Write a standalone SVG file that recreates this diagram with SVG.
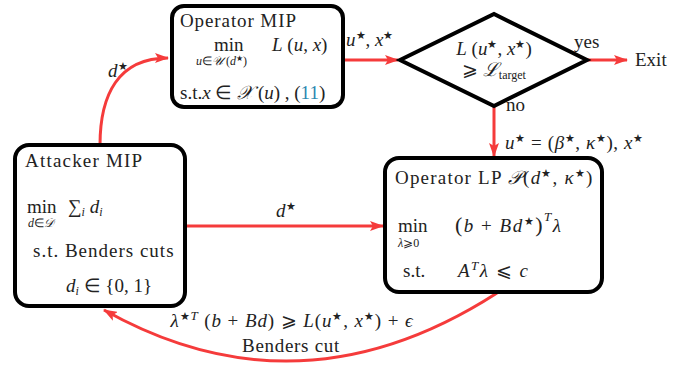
<svg xmlns="http://www.w3.org/2000/svg" width="697" height="367" viewBox="0 0 697 367">
<defs>
<marker id="ah" viewBox="0 0 14 10" refX="13" refY="5" markerWidth="14" markerHeight="10" markerUnits="userSpaceOnUse" orient="auto">
<path d="M0,0 L14,5 L0,10 L3,5 Z" fill="#f53b3b"/>
</marker>
</defs>
<style>
.box{fill:#fff;stroke:#000;stroke-width:4}
.c{fill:none;stroke:#f53b3b;stroke-width:3;marker-end:url(#ah)}
</style>
<rect width="697" height="367" fill="#fff"/>
<g id="connectors">
<path class="c" d="M100,145 C100,95 118,58 168,58"/>
<path class="c" d="M343,60 L398,60"/>
<path class="c" d="M587,60 L627,60"/>
<path class="c" d="M494,106 L494,156"/>
<path class="c" d="M185,226 L383,226"/>
<path class="c" d="M497,293 Q300,420 104,310"/>
</g>
<g id="labels" font-family="Liberation Serif" font-size="19" fill="#222">
<text x="108" y="77" font-style="italic">d<tspan dy="-7" font-size="11" font-style="normal">★</tspan></text>
<text x="346" y="46" font-style="italic">u<tspan dy="-7" font-size="11" font-style="normal">★</tspan><tspan dy="7" font-style="normal">, </tspan>x<tspan dy="-7" font-size="11" font-style="normal">★</tspan></text>
<text x="574" y="48">yes</text>
<text x="635" y="66">Exit</text>
<text x="506" y="111">no</text>
<text x="505" y="149" font-style="italic" letter-spacing="0.6">u<tspan dy="-7" font-size="11" font-style="normal">★</tspan><tspan dy="7" font-style="normal"> = (</tspan>β<tspan dy="-7" font-size="11" font-style="normal">★</tspan><tspan dy="7" font-style="normal">, </tspan>κ<tspan dy="-7" font-size="11" font-style="normal">★</tspan><tspan dy="7" font-style="normal">), </tspan>x<tspan dy="-7" font-size="11" font-style="normal">★</tspan></text>
<text x="276" y="217" font-style="italic">d<tspan dy="-7" font-size="11" font-style="normal">★</tspan></text>
<text x="292" y="327" text-anchor="middle" letter-spacing="0.9"><tspan font-style="italic">λ</tspan><tspan dy="-7" font-size="11">★</tspan><tspan font-style="italic" font-size="13">T</tspan><tspan dy="7"> (</tspan><tspan font-style="italic">b</tspan> + <tspan font-style="italic">Bd</tspan>) ⩾ <tspan font-style="italic">L</tspan>(<tspan font-style="italic">u</tspan><tspan dy="-7" font-size="11">★</tspan><tspan dy="7">, </tspan><tspan font-style="italic">x</tspan><tspan dy="-7" font-size="11">★</tspan><tspan dy="7">) + </tspan><tspan font-style="italic">ϵ</tspan></text>
<text x="291" y="352" text-anchor="middle" letter-spacing="0.7">Benders cut</text>
</g>
<g id="operator-mip" font-family="Liberation Serif" font-size="19" fill="#222">
<rect class="box" x="172" y="6" width="171" height="101" rx="12"/>
<text x="180" y="27" letter-spacing="0.9">Operator MIP</text>
<text x="214" y="51">min</text>
<text x="196" y="65" font-size="12"><tspan font-style="italic">u</tspan>∈<tspan font-style="italic">𝒰</tspan> (<tspan font-style="italic">d</tspan><tspan dy="-4" font-size="8">★</tspan><tspan dy="4">)</tspan></text>
<text x="272" y="51"><tspan font-style="italic">L</tspan> (<tspan font-style="italic">u</tspan>, <tspan font-style="italic">x</tspan>)</text>
<text x="180" y="99">s.t.<tspan font-style="italic">x</tspan> ∈ <tspan font-style="italic">𝒳</tspan> (<tspan font-style="italic">u</tspan>) , (<tspan fill="#2a86b0">11</tspan>)</text>
</g>
<g id="decision" font-family="Liberation Serif" font-size="19" fill="#222">
<polygon points="400,60 494,14 587,60 494,106" fill="#fff" stroke="#000" stroke-width="4"/>
<text x="494" y="55" text-anchor="middle"><tspan font-style="italic">L</tspan> (<tspan font-style="italic">u</tspan><tspan dy="-7" font-size="11">★</tspan><tspan dy="7">, </tspan><tspan font-style="italic">x</tspan><tspan dy="-7" font-size="11">★</tspan><tspan dy="7">)</tspan></text>
<text x="494" y="76" text-anchor="middle">⩾ <tspan font-style="italic">ℒ</tspan><tspan dy="3" font-size="12">target</tspan></text>
</g>
<g id="attacker-mip" font-family="Liberation Serif" font-size="19" fill="#222">
<rect class="box" x="15" y="145" width="170" height="161" rx="14"/>
<text x="25" y="167" letter-spacing="1.2">Attacker MIP</text>
<text x="27" y="213">min</text>
<text x="28" y="227" font-size="12"><tspan font-style="italic">d</tspan>∈<tspan font-style="italic">𝒟</tspan></text>
<text x="68" y="213">∑<tspan dy="3" font-size="12" font-style="italic">i</tspan><tspan dy="-3">  </tspan><tspan font-style="italic">d</tspan><tspan dy="3" font-size="12" font-style="italic">i</tspan></text>
<text x="33" y="257" letter-spacing="1">s.t. Benders cuts</text>
<text x="66" y="292"><tspan font-style="italic">d</tspan><tspan dy="3" font-size="12" font-style="italic">i</tspan><tspan dy="-3"> ∈ {0, 1}</tspan></text>
</g>
<g id="operator-lp" font-family="Liberation Serif" font-size="19" fill="#222">
<rect class="box" x="385" y="158" width="217" height="134" rx="14"/>
<text x="395" y="184" letter-spacing="1.2">Operator LP <tspan font-style="italic">𝒫</tspan>(<tspan font-style="italic">d</tspan><tspan dy="-7" font-size="11">★</tspan><tspan dy="7">, </tspan><tspan font-style="italic">κ</tspan><tspan dy="-7" font-size="11">★</tspan><tspan dy="7">)</tspan></text>
<text x="398" y="232">min</text>
<text x="398" y="247" font-size="12"><tspan font-style="italic">λ</tspan>⩾0</text>
<text x="455" y="232" letter-spacing="1.5"><tspan font-size="22">(</tspan><tspan font-style="italic">b</tspan> + <tspan font-style="italic">Bd</tspan><tspan dy="-7" font-size="11">★</tspan><tspan dy="7" font-size="22">)</tspan><tspan dy="-11" font-style="italic" font-size="13">T</tspan><tspan dy="11" font-style="italic">λ</tspan></text>
<text x="403" y="277">s.t.</text>
<text x="458" y="277" letter-spacing="1.5"><tspan font-style="italic">A</tspan><tspan dy="-7" font-style="italic" font-size="13">T</tspan><tspan dy="7" font-style="italic">λ</tspan> ⩽ <tspan font-style="italic">c</tspan></text>
</g>
</svg>
